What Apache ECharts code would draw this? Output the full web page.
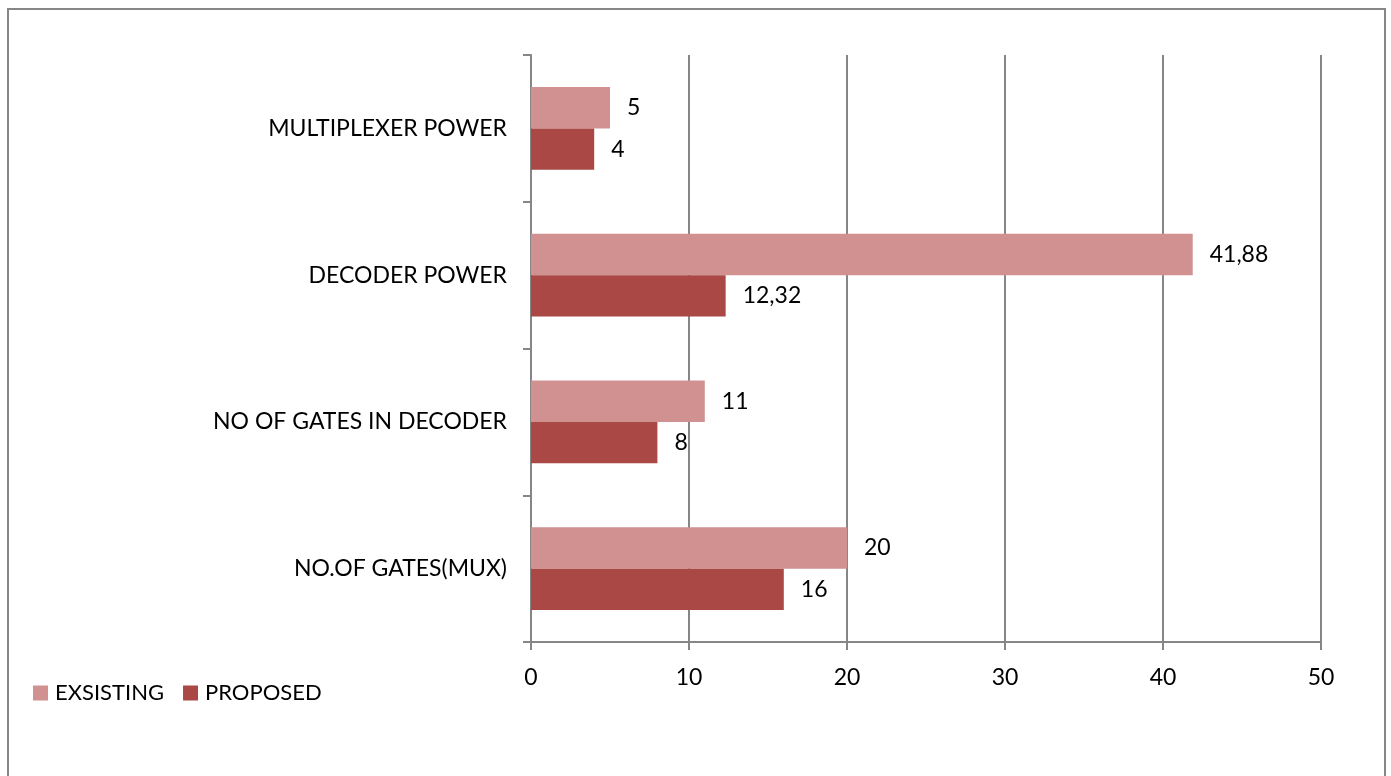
<!DOCTYPE html>
<html>
<head>
    <meta charset="utf-8">
    <title>Bar chart</title>
    <script src="https://cdn.jsdelivr.net/npm/echarts@6/dist/echarts.min.js"></script>
    <style>
        html, body { margin: 0; padding: 0; background: #fff; }
    </style>
</head>
<body>
    <div id="chart" style="width: 1391px;height:776px;"></div>
    <script type="text/javascript">
        // categories bottom -> top (echarts category y axis goes upward)
        var categories = ['NO.OF GATES(MUX)', 'NO OF GATES IN DECODER', 'DECODER POWER', 'MULTIPLEXER POWER'];
        var existing = [20, 11, 41.88, 5];
        var proposed = [16, 8, 12.32, 4];
        var seriesNames = ['EXSISTING', 'PROPOSED'];

        var font = 'Lato';
        var fs = 23;
        var axisGray = '#868686';

        var myChart = echarts.init(document.getElementById('chart'));

        function commaLabel(p) {
            return String(p.value).replace('.', ',');
        }

        var option = {
            backgroundColor: '#fff',
            animation: false,
            textStyle: { fontFamily: font },
            graphic: [{
                type: 'rect',
                shape: { x: 8, y: 9, width: 1377, height: 820 },
                style: { fill: 'none', stroke: axisGray, lineWidth: 2 },
                silent: true
            }],
            legend: {
                data: seriesNames,
                left: 28,
                top: 677,
                itemWidth: 15,
                itemHeight: 15,
                itemGap: 19,
                icon: 'rect',
                textStyle: { fontSize: 22, color: '#000', fontFamily: font, padding: [0, 0, 0, 2] }
            },
            grid: {
                left: 531,
                right: 70,
                top: 55,
                bottom: 134,
                containLabel: false
            },
            xAxis: {
                type: 'value',
                min: 0,
                max: 50,
                interval: 10,
                axisLine: { show: true, lineStyle: { color: axisGray, width: 2 } },
                axisTick: { show: true, length: 8, lineStyle: { color: axisGray, width: 2 } },
                axisLabel: { color: '#000', fontSize: fs, margin: 24, fontFamily: font },
                splitLine: { show: true, lineStyle: { color: axisGray, width: 2 } }
            },
            yAxis: {
                type: 'category',
                data: categories,
                axisLine: { show: true, lineStyle: { color: axisGray, width: 2 } },
                axisTick: { show: true, length: 8, lineStyle: { color: axisGray, width: 2 } },
                axisLabel: { color: '#000', fontSize: fs, margin: 24, fontFamily: font },
                splitLine: { show: false }
            },
            series: [{
                name: seriesNames[0],
                type: 'bar',
                data: existing,
                barGap: '0%',
                barCategoryGap: '43.5%',
                itemStyle: { color: '#D19191' },
                label: {
                    show: true, position: 'right', distance: 17,
                    color: '#000', fontSize: fs, fontFamily: font,
                    formatter: commaLabel
                }
            }, {
                name: seriesNames[1],
                type: 'bar',
                data: proposed,
                barGap: '0%',
                barCategoryGap: '43.5%',
                itemStyle: { color: '#A94845' },
                label: {
                    show: true, position: 'right', distance: 17,
                    color: '#000', fontSize: fs, fontFamily: font,
                    formatter: commaLabel
                }
            }]
        };

        myChart.setOption(option);
    </script>
</body>
</html>
